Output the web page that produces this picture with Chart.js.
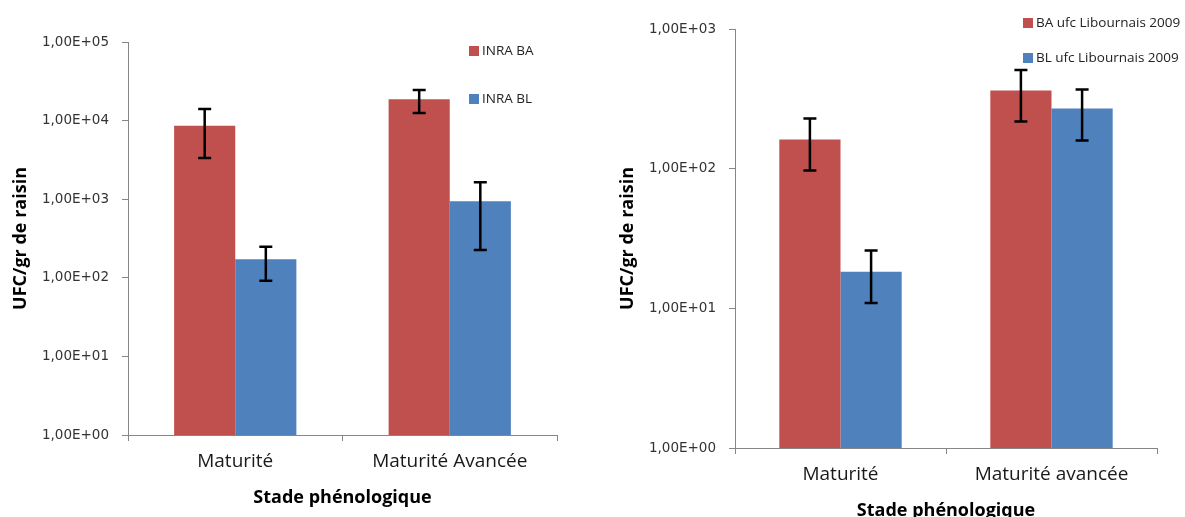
<!DOCTYPE html>
<html lang="fr">
<head>
<meta charset="UTF-8">
<title>UFC/gr de raisin</title>
<script src="https://cdn.jsdelivr.net/npm/chart.js@4.4.0/dist/chart.umd.min.js"></script>
<style>
    body { margin: 0; background: #fff; overflow: hidden; width: 1185px; height: 517px; position: relative; }
    #gauche { position: absolute; left: 0; top: 0; }
    #droite { position: absolute; left: 592px; top: 0; }
</style>
</head>
<body>
<canvas id="gauche" width="592" height="517"></canvas>
<canvas id="droite" width="593" height="530"></canvas>
<script>
    // graphique de gauche : INRA
    const stades1 = ['Maturité', 'Maturité Avancée'];
    const inraBA = [8600, 18700];
    const inraBAbas = [3340, 12500];
    const inraBAhaut = [14000, 24500];
    const inraBL = [172, 940];
    const inraBLbas = [92, 226];
    const inraBLhaut = [249, 1640];
    const yTicks1 = [1, 10, 100, 1000, 10000, 100000];
    const yLabels1 = ['1,00E+00', '1,00E+01', '1,00E+02', '1,00E+03', '1,00E+04', '1,00E+05'];

    // graphique de droite : Libournais 2009
    const stades2 = ['Maturité', 'Maturité avancée'];
    const libBA = [162, 363];
    const libBAbas = [97, 218];
    const libBAhaut = [229, 508];
    const libBL = [18.3, 270];
    const libBLbas = [10.9, 159];
    const libBLhaut = [26, 369];
    const yTicks2 = [1, 10, 100, 1000];
    const yLabels2 = ['1,00E+00', '1,00E+01', '1,00E+02', '1,00E+03'];

    const ROUGE = '#C0504D';
    const BLEU = '#4F81BD';
    const GRIS = '#868686';

    // barres d'erreur dessinées avec les échelles du graphique
    const errorBars = {
        id: 'errorBars',
        afterDatasetsDraw(chart) {
            const ctx = chart.ctx;
            const y = chart.scales.y;
            ctx.save();
            ctx.strokeStyle = '#000';
            ctx.lineWidth = 2.5;
            chart.data.datasets.forEach((ds, i) => {
                chart.getDatasetMeta(i).data.forEach((bar, j) => {
                    const yb = y.getPixelForValue(ds.bas[j]);
                    const yh = y.getPixelForValue(ds.haut[j]);
                    ctx.beginPath();
                    ctx.moveTo(bar.x, yb); ctx.lineTo(bar.x, yh);
                    ctx.moveTo(bar.x - 6.5, yb); ctx.lineTo(bar.x + 6.5, yb);
                    ctx.moveTo(bar.x - 6.5, yh); ctx.lineTo(bar.x + 6.5, yh);
                    ctx.stroke();
                });
            });
            ctx.restore();
        }
    };

    // légende verticale à carrés, comme dans Excel
    const boxLegend = {
        id: 'boxLegend',
        afterDraw(chart, args, opts) {
            const ctx = chart.ctx;
            ctx.save();
            ctx.font = opts.font;
            ctx.textBaseline = 'middle';
            chart.data.datasets.forEach((ds, i) => {
                const cy = opts.y + i * opts.gap;
                ctx.fillStyle = ds.backgroundColor;
                ctx.fillRect(opts.x, cy - 5, 10, 10);
                ctx.fillStyle = '#222';
                ctx.fillText(ds.label, opts.x + 13, cy);
            });
            ctx.restore();
        }
    };

    function makeChart(id, cats, sets, ticks, labels, zone) {
        const ds = sets.map(s => ({
            label: s.label,
            data: s.data,
            bas: s.bas,
            haut: s.haut,
            backgroundColor: s.color,
            borderWidth: 0,
            categoryPercentage: zone.cat,
            barPercentage: 1
        }));
        return new Chart(document.getElementById(id), {
            type: 'bar',
            data: { labels: cats, datasets: ds },
            options: {
                responsive: false,
                animation: false,
                layout: { padding: { top: zone.top, right: zone.right, left: 0, bottom: 0 } },
                plugins: {
                    legend: { display: false },
                    tooltip: { enabled: false },
                    boxLegend: zone.legend
                },
                scales: {
                    x: {
                        afterFit: s => { s.height = 82; },
                        border: { color: GRIS, width: 1 },
                        grid: { offset: true, drawOnChartArea: false, tickLength: 6, color: GRIS },
                        ticks: { color: '#1a1a1a', padding: 9, font: { family: 'Open Sans', size: 19 } },
                        title: {
                            display: true, text: 'Stade phénologique', color: '#000',
                            font: { family: 'Open Sans', size: 18, weight: 'bold' },
                            padding: { top: 0, bottom: 8 }
                        }
                    },
                    y: {
                        type: 'logarithmic',
                        min: ticks[0],
                        max: ticks[ticks.length - 1],
                        afterFit: s => { s.width = zone.left; },
                        afterBuildTicks: s => { s.ticks = ticks.map(v => ({ value: v })); },
                        border: { color: GRIS, width: 1 },
                        grid: { drawOnChartArea: false, tickLength: 6, color: GRIS },
                        ticks: {
                            color: '#333', padding: 13,
                            font: { family: 'DejaVu Sans', size: 13.5 },
                            callback: v => labels[ticks.indexOf(v)]
                        },
                        title: {
                            display: true, text: 'UFC/gr de raisin', color: '#000',
                            font: { family: 'Open Sans', size: 18, weight: 'bold' },
                            padding: { top: zone.ytitle, bottom: 0 }
                        }
                    }
                }
            },
            plugins: [errorBars, boxLegend]
        });
    }

    makeChart('gauche', stades1, [
        { label: 'INRA BA', data: inraBA, bas: inraBAbas, haut: inraBAhaut, color: ROUGE },
        { label: 'INRA BL', data: inraBL, bas: inraBLbas, haut: inraBLhaut, color: BLEU }
    ], yTicks1, yLabels1, {
        top: 42, right: 35, left: 128, cat: 0.57, ytitle: 10,
        legend: { x: 469, y: 51, gap: 48, font: '13.5px "Open Sans"' }
    });

    makeChart('droite', stades2, [
        { label: 'BA ufc Libournais 2009', data: libBA, bas: libBAbas, haut: libBAhaut, color: ROUGE },
        { label: 'BL ufc Libournais 2009', data: libBL, bas: libBLbas, haut: libBLhaut, color: BLEU }
    ], yTicks2, yLabels2, {
        top: 29, right: 28, left: 143, cat: 0.58, ytitle: 25,
        legend: { x: 431, y: 23, gap: 35, font: '13.5px "Open Sans"' }
    });
</script>
</body>
</html>
